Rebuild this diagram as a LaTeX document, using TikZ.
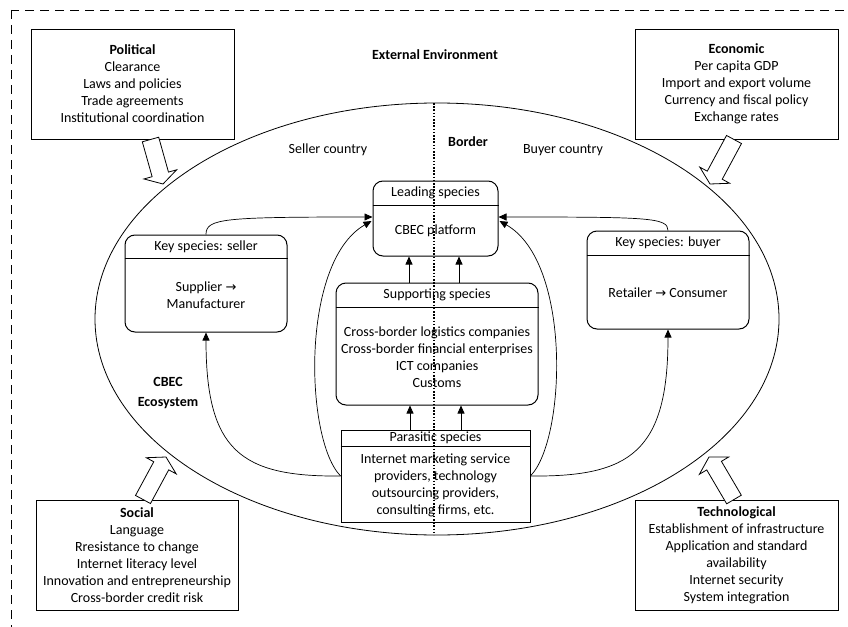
\documentclass[tikz,border=0pt]{standalone}
\usepackage{fontspec}
\setmainfont{Carlito}
\newfontfamily\symfont{DejaVu Sans}
\usetikzlibrary{calc,arrows.meta}
\newcommand\rarr{{\symfont\fontsize{13}{15}\selectfont →}}
\newcommand\myblockarrow[2]{%
  \coordinate (bam) at ($(#2)!10pt!(#1)$);
  \draw[envarrow] ($(#1)!8.5pt!90:(#2)$) -- ($(bam)!8.5pt!-90:(#1)$) -- ($(bam)!17pt!-90:(#1)$) -- (#2)
     -- ($(bam)!17pt!90:(#1)$) -- ($(bam)!8.5pt!90:(#1)$) -- ($(#1)!8.5pt!-90:(#2)$) -- cycle;}
\begin{document}
\begin{tikzpicture}[x=1pt,y=-1pt,
  every node/.style={font=\fontsize{14}{17}\selectfont, inner sep=0pt},
  envbox/.style={draw, line width=0.9pt, minimum width=203pt, minimum height=110pt, align=center},
  rbox/.style={draw, line width=1pt, rounded corners=10pt},
  sbox/.style={draw, line width=0.8pt},
  envarrow/.style={draw, fill=white, line width=0.8pt, line join=miter},
  conn/.style={line width=0.7pt, -{Triangle[length=8pt,width=7pt]}},
  txt/.style={align=center}]
\useasboundingbox (0,0) rectangle (848,626);
\clip (0,0) rectangle (848,626);
% outer dashed frame
\draw[line width=0.9pt, dash pattern=on 9pt off 6pt] (11,10) rectangle (880,660);
% ecosystem ellipse
\coordinate (ecoc) at (437,319);
\draw[line width=0.8pt] (ecoc) ellipse [x radius=342pt, y radius=216pt];

% environment boxes
\node[envbox] (pol) at (132.5,84) {\textbf{Political}\\Clearance\\Laws and policies\\Trade agreements\\Institutional coordination};
\node[envbox] (eco) at (736.5,84) {\textbf{Economic}\\Per capita GDP\\Import and export volume\\Currency and fiscal policy\\Exchange rates};
\node[envbox, minimum width=202pt] (soc) at (137,555) {\textbf{Social}\\Language\\Rresistance to change\\Internet literacy level\\Innovation and entrepreneurship\\Cross-border credit risk};
\node[envbox] (tec) at (736.5,555) {\textbf{Technological}\\Establishment of infrastructure\\Application and standard\\availability\\Internet security\\System integration};

% block arrows
\coordinate (pa) at (150.5,139.5); \coordinate (pt) at (163,184);
\coordinate (ea) at (734,139.5);   \coordinate (et) at (710,184);
\coordinate (sa) at (143,499.5);   \coordinate (st) at (166,457);
\coordinate (ta) at (734,499.5);   \coordinate (tt) at (709,457);
\myblockarrow{pa}{pt}
\myblockarrow{ea}{et}
\myblockarrow{sa}{st}
\myblockarrow{ta}{tt}

% free labels
\node[font=\fontsize{14}{17}\selectfont\bfseries] (extenv) at (435,55) {External Environment};
\node (sellc) at (328,150) {Seller country};
\node[font=\fontsize{14}{17}\selectfont\bfseries] (bord) at (468,142) {Border};
\node (buyc) at (563,150) {Buyer country};
\node[txt, font=\fontsize{14}{19.5}\selectfont\bfseries] (cbec) at (168,393) {CBEC\\Ecosystem};

% species boxes
\node[rbox, minimum width=125pt, minimum height=75pt] (lead) at (435.5,218.5) {};
\draw[line width=1pt] ($(lead.north west)+(0,25)$) -- ($(lead.north east)+(0,25)$);
\node (leadh) at ($(lead.north)+(0,12.5)$) {Leading species};
\node (leadb) at ($(lead.center)+(0,12.5)$) {CBEC platform};

\node[rbox, minimum width=202pt, minimum height=122pt] (supp) at (437,344) {};
\draw[line width=1pt] ($(supp.north west)+(0,25)$) -- ($(supp.north east)+(0,25)$);
\node (supph) at ($(supp.north)+(0,12.5)$) {Supporting species};
\node[txt] (suppb) at (437,357.5) {Cross-border logistics companies\\Cross-border financial enterprises\\ICT companies\\Customs};

\node[sbox, minimum width=189pt, minimum height=92pt] (para) at (435.5,476) {};
\draw[line width=0.8pt] ($(para.north west)+(0,17)$) -- ($(para.north east)+(0,17)$);
\node (parah) at ($(para.north)+(0,8.5)$) {Parasitic species};
\node[txt] (parab) at (435.5,485) {Internet marketing service\\providers, technology\\outsourcing providers,\\consulting firms, etc.};

\node[rbox, minimum width=162pt, minimum height=97pt] (sell) at (206,283.5) {};
\draw[line width=1pt] ($(sell.north west)+(0,24)$) -- ($(sell.north east)+(0,24)$);
\node (sellh) at ($(sell.north)+(0,12)$) {Key species: seller};
\node[txt] (sellb) at (206,295.5) {Supplier \rarr\\Manufacturer};

\node[rbox, minimum width=162pt, minimum height=98pt] (buy) at (668,280) {};
\draw[line width=1pt] ($(buy.north west)+(0,25)$) -- ($(buy.north east)+(0,25)$);
\node (buyh) at ($(buy.north)+(0,12.5)$) {Key species: buyer};
\node (buyb) at (668,293) {Retailer \rarr{} Consumer};

% connectors
\draw[conn] (sell.north) .. controls +(0,-16) and +(-150,0) .. ($(lead.west)+(0,-1.5)$);
\draw[conn] (buy.north) .. controls +(0,-13) and +(150,0) .. ($(lead.east)+(0,-1.5)$);
\draw[conn] ($(supp.north)+(-28,0)$) -- ($(lead.south)+(-26.5,0)$);
\draw[conn] ($(supp.north)+(22,0)$) -- ($(lead.south)+(23.5,0)$);
\draw[conn] ($(para.north)+(-25.5,0)$) -- ($(supp.south)+(-27,0)$);
\draw[conn] ($(para.north)+(25.5,0)$) -- ($(supp.south)+(24,0)$);
\draw[conn] (para.west) .. controls (240,477) and (206,450) .. (sell.south);
\draw[conn] (para.west) .. controls (305,440) and (300,262) .. ($(lead.west)+(-1,2.5)$);
\draw[conn] (para.east) .. controls (566,440) and (572,262) .. ($(lead.east)+(1,2.5)$);
\draw[conn] (para.east) .. controls (630,477) and (668,452) .. (buy.south);

% border line
\draw[line width=1.1pt, dash pattern=on 1.6pt off 1.6pt] (434,103) -- (434,535);
\end{tikzpicture}
\end{document}
